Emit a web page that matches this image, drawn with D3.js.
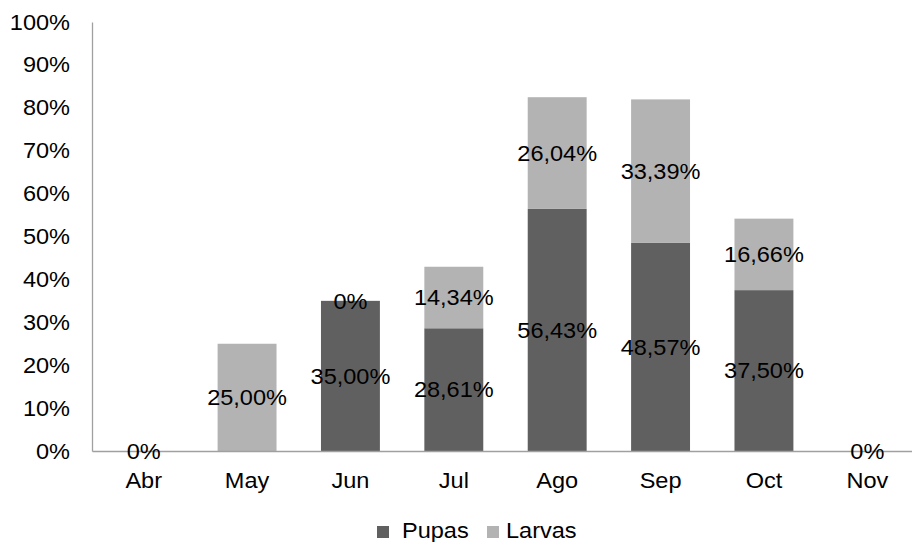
<!DOCTYPE html>
<html>
<head>
<meta charset="utf-8">
<script src="https://cdn.jsdelivr.net/npm/d3@7"></script>
<style>
  body { margin: 0; background: #fff; }
  text { font-family: "Liberation Sans", Arial, sans-serif; fill: #000; }
</style>
</head>
<body>
<div id="chart"></div>
<script>
var months = ["Abr", "May", "Jun", "Jul", "Ago", "Sep", "Oct", "Nov"];
var pupas = [0, 0, 35.00, 28.61, 56.43, 48.57, 37.50, 0];
var larvas = [0, 25.00, 0, 14.34, 26.04, 33.39, 16.66, 0];
var yTicks = [0, 10, 20, 30, 40, 50, 60, 70, 80, 90, 100];
// zero labels that are shown in the original
var zeroLabels = [["Pupas", "Abr"], ["Larvas", "Jun"], ["Pupas", "Nov"]];

var svgWidth = 912;
var svgHeight = 542;
var margin = { top: 22, right: -7, bottom: 91, left: 92 };
var width = svgWidth - margin.left - margin.right;
var height = svgHeight - margin.top - margin.bottom;
var fontSize = 22;
var stretchX = 1.07; // text in the original is a bit wide

var svg = d3.select("#chart")
    .append("svg")
    .attr("width", svgWidth)
    .attr("height", svgHeight);

var chartGroup = svg.append("g")
    .attr("transform", `translate(${margin.left}, ${margin.top})`);

var series = [
  { name: "Pupas", values: pupas, color: "#606060" },
  { name: "Larvas", values: larvas, color: "#b3b3b3" }
];

// widen text horizontally around its own anchor point
function stretch(sel) {
  sel.each(function() {
    var t = d3.select(this);
    var x = +t.attr("x") || 0;
    var y = +t.attr("y") || 0;
    t.attr("x", 0).attr("y", 0)
     .attr("transform", `translate(${x}, ${y}) scale(${stretchX}, 1)`);
  });
}

var xScale = d3.scaleBand()
    .domain(months)
    .range([0, width])
    .paddingInner(0.43)
    .paddingOuter(0.215);

var yScale = d3.scaleLinear()
    .domain([0, 100])
    .range([height, 0]);

// stack the segments
var segments = [];
months.forEach((m, i) => {
  var base = 0;
  series.forEach(s => {
    var v = s.values[i];
    segments.push({ month: m, series: s.name, color: s.color, y0: base, y1: base + v, value: v });
    base += v;
  });
});

// bars
chartGroup.selectAll("rect.bar")
  .data(segments.filter(d => d.value > 0))
  .enter()
  .append("rect")
  .attr("class", "bar")
  .attr("x", d => xScale(d.month))
  .attr("width", xScale.bandwidth())
  .attr("y", d => yScale(d.y1))
  .attr("height", d => yScale(d.y0) - yScale(d.y1))
  .attr("fill", d => d.color);

// y axis
var leftAxis = d3.axisLeft(yScale)
    .tickValues(yTicks)
    .tickSize(0)
    .tickPadding(22)
    .tickFormat(d => d + "%");

var yAxisG = chartGroup.append("g").call(leftAxis);
yAxisG.select(".domain").attr("stroke", "#a0a0a0").attr("stroke-width", 1.3);
yAxisG.selectAll("text")
  .attr("font-size", fontSize + "px")
  .attr("font-family", "Liberation Sans, Arial, sans-serif")
  .attr("fill", "#000")
  .call(stretch);

// x axis
var bottomAxis = d3.axisBottom(xScale).tickSize(0).tickPadding(21);
var xAxisG = chartGroup.append("g")
    .attr("transform", `translate(0, ${height})`)
    .call(bottomAxis);
xAxisG.select(".domain").attr("stroke", "#a0a0a0").attr("stroke-width", 1.3);
xAxisG.selectAll("text")
  .attr("font-size", fontSize + "px")
  .attr("font-family", "Liberation Sans, Arial, sans-serif")
  .attr("fill", "#000")
  .call(stretch);

// data labels
var fmt = v => v === 0 ? "0%" : v.toFixed(2).replace(".", ",") + "%";
var labelData = segments.filter(d => d.value > 0 ||
    zeroLabels.some(z => z[0] === d.series && z[1] === d.month));

chartGroup.selectAll("text.lbl")
  .data(labelData)
  .enter()
  .append("text")
  .attr("class", "lbl")
  .attr("x", d => xScale(d.month) + xScale.bandwidth() / 2)
  .attr("y", d => yScale((d.y0 + d.y1) / 2))
  .attr("dy", "0.35em")
  .attr("text-anchor", "middle")
  .attr("font-size", fontSize + "px")
  .text(d => fmt(d.value))
  .call(stretch);

// legend
var legend = svg.append("g").attr("transform", "translate(377, 532)");
var legendX = [0, 110];
series.forEach((s, i) => {
  var g = legend.append("g").attr("transform", `translate(${legendX[i]}, 0)`);
  g.append("rect")
    .attr("x", 0)
    .attr("y", -6)
    .attr("width", 12)
    .attr("height", 12)
    .attr("fill", s.color);
  g.append("text")
    .attr("x", i === 0 ? 25 : 19)
    .attr("y", 0)
    .attr("dy", "0.25em")
    .attr("font-size", fontSize + "px")
    .text(s.name)
    .call(stretch);
});
</script>
</body>
</html>
